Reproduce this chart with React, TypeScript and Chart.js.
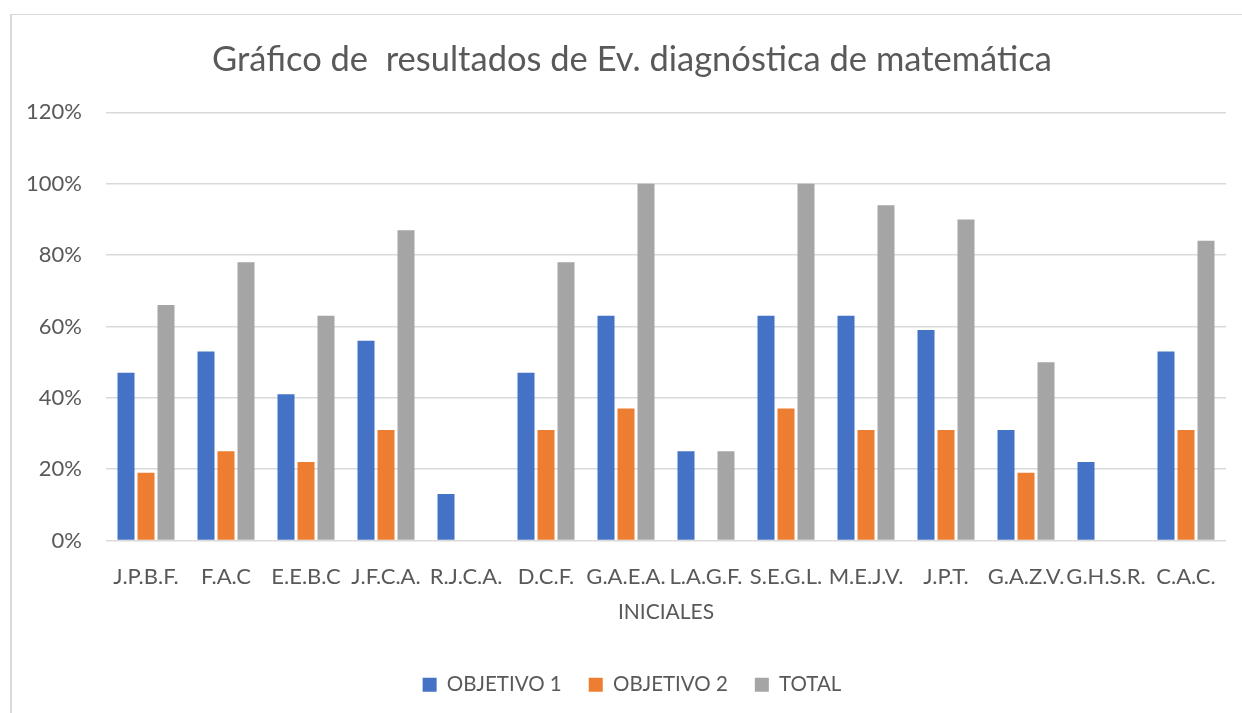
import React, { useEffect, useRef } from "react";
import { Chart, registerables } from "chart.js";

Chart.register(...registerables);

const categories = [
  "J.P.B.F.", "F.A.C", "E.E.B.C", "J.F.C.A.", "R.J.C.A.", "D.C.F.", "G.A.E.A.",
  "L.A.G.F.", "S.E.G.L.", "M.E.J.V.", "J.P.T.", "G.A.Z.V.", "G.H.S.R.", "C.A.C.",
];
const objetivo1 = [47, 53, 41, 56, 13, 47, 63, 25, 63, 63, 59, 31, 22, 53];
const objetivo2 = [19, 25, 22, 31, 0, 31, 37, 0, 37, 31, 31, 19, 0, 31];
const total = [66, 78, 63, 87, 0, 78, 100, 25, 100, 94, 90, 50, 0, 84];
const seriesNames = ["OBJETIVO 1", "OBJETIVO 2", "TOTAL"];
const titleText = "Gráfico de  resultados de Ev. diagnóstica de matemática";
const xAxisTitle = "INICIALES";
const yMax = 120;
const yStep = 20;

const FONT = "Lato, 'Open Sans', sans-serif";
const TEXT = "#595959";
const GRID = "#d9d9d9";

export default function App() {
  const ref = useRef<HTMLCanvasElement | null>(null);

  useEffect(() => {
    if (!ref.current) return;
    const chart = new Chart(ref.current, {
      type: "bar",
      data: {
        labels: categories,
        datasets: [
          { label: seriesNames[0], data: objetivo1, backgroundColor: "#4472C4" },
          { label: seriesNames[1], data: objetivo2, backgroundColor: "#ED7D31" },
          { label: seriesNames[2], data: total, backgroundColor: "#A5A5A5" },
        ],
      },
      options: {
        responsive: false,
        animation: false,
        layout: { padding: { left: 38, right: 16, top: 0, bottom: 8 } },
        datasets: { bar: { categoryPercentage: 0.75, barPercentage: 0.85 } },
        plugins: {
          tooltip: { enabled: false },
          title: {
            display: true,
            text: titleText,
            color: TEXT,
            font: { family: FONT, size: 34.5, weight: "normal" },
            padding: { top: 39.5, bottom: 31.5 },
          },
          legend: {
            position: "bottom",
            labels: {
              boxWidth: 14,
              boxHeight: 14,
              padding: 27,
              color: TEXT,
              font: { family: FONT, size: 20.5 },
            },
          },
        },
        scales: {
          x: {
            grid: { display: false, drawTicks: false },
            border: { display: false },
            ticks: {
              color: TEXT,
              font: { family: FONT, size: 22 },
              padding: 23,
              maxRotation: 0,
              autoSkip: false,
            },
            title: {
              display: true,
              text: xAxisTitle,
              color: TEXT,
              font: { family: FONT, size: 21 },
              padding: { top: 4, bottom: 23 },
            },
            afterFit: (scale: any) => {
              scale.height = 107;
            },
          },
          y: {
            min: 0,
            max: yMax,
            grid: { color: GRID, lineWidth: 1.5, drawTicks: false },
            border: { display: false },
            ticks: {
              stepSize: yStep,
              color: TEXT,
              font: { family: FONT, size: 22 },
              padding: 24,
              callback: (v: any) => `${v}%`,
            },
            afterFit: (scale: any) => {
              scale.width = 68;
              // let tick labels extend past the (narrowed) axis box without clipping
              scale._computeLabelArea = () => undefined;
            },
          },
        },
      },
    });
    return () => chart.destroy();
  }, []);

  return (
    <div style={{ position: "fixed", left: 0, top: 0, width: 1242, height: 713, background: "#fff" }}>
      <div
        style={{
          position: "absolute",
          left: 10,
          top: 14,
          width: 1240,
          height: 710,
          borderLeft: "2px solid #d9d9d9",
          borderTop: "1px solid #d9d9d9",
        }}
      />
      <canvas ref={ref} width={1242} height={713} style={{ position: "absolute", left: 0, top: 0 }} />
    </div>
  );
}
